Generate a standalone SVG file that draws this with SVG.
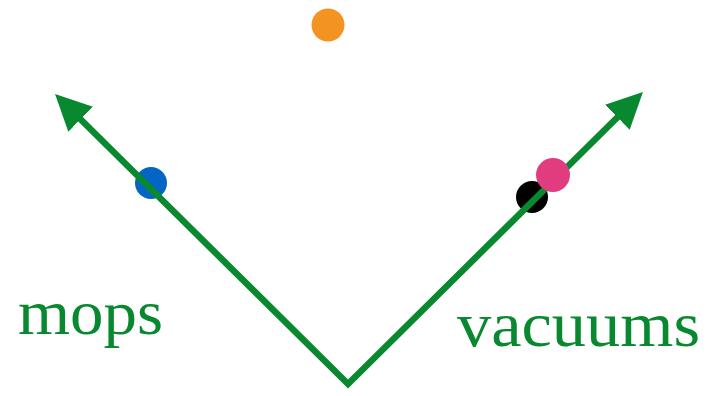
<svg xmlns="http://www.w3.org/2000/svg" width="709" height="396" viewBox="0 0 709 396">
  <style>
    .axis { fill: none; stroke: #08892f; stroke-width: 6.5; stroke-linejoin: miter; stroke-miterlimit: 10; }
    .lbl { font-family: "Liberation Serif", "Times New Roman", serif; font-size: 63px; fill: #08892f; }
  </style>
  <defs>
    <marker id="arrow" viewBox="0 -19 38 38" markerUnits="userSpaceOnUse" markerWidth="38" markerHeight="38" refX="3" refY="0" orient="auto-start-reverse">
      <path d="M0,-17.5 L36,0 L0,17.5 z" fill="#08892f"/>
    </marker>
  </defs>
  <rect width="709" height="396" fill="#ffffff"/>
  <g id="node-black"><circle cx="532" cy="197" r="16" fill="#000000"/></g>
  <g id="node-blue"><circle cx="151" cy="183" r="16" fill="#0565c2"/></g>
  <g id="connectors">
    <polyline class="axis" points="78.5,117.2 348,384 619.5,115.2" marker-start="url(#arrow)" marker-end="url(#arrow)"/>
  </g>
  <g id="node-pink"><circle cx="553" cy="175" r="17" fill="#e13d7e"/></g>
  <g id="node-orange"><circle cx="328" cy="25" r="16.5" fill="#f39322"/></g>
  <g id="label-mops"><text class="lbl" x="18" y="334" textLength="145" lengthAdjust="spacingAndGlyphs">mops</text></g>
  <g id="label-vacuums"><text class="lbl" x="457" y="346" textLength="243" lengthAdjust="spacingAndGlyphs">vacuums</text></g>
</svg>
